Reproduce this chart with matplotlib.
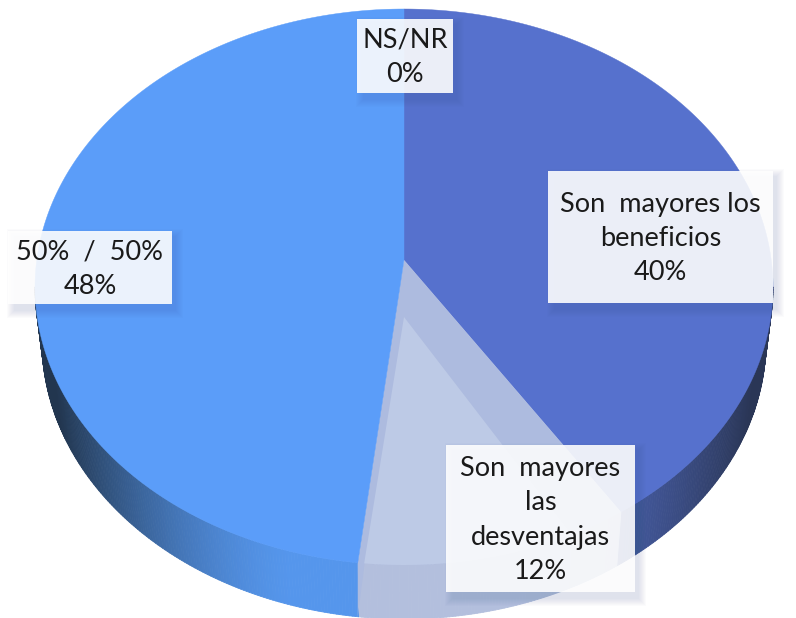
import numpy as np
import matplotlib
matplotlib.use('Agg')
import matplotlib.pyplot as plt
from matplotlib.collections import PolyCollection
from matplotlib.patches import Rectangle

labels = ['Son  mayores los\nbeneficios\n40%', 'Son  mayores\nlas\ndesventajas\n12%', '50%  /  50%\n48%', 'NS/NR\n0%']
values = [40, 12, 48, 0]
top_colors = ['#5671CD', '#BDCAE6', '#5B9DF9', '#8FB0E8']
side_colors = ['#516BC2', '#B3BFDD', '#5596EC', '#8FB0E8']
dark_colors = ['#2A3656', '#8F9CC0', '#22364F', '#8FB0E8']

# label boxes in pixels: left, top, right, bottom
boxes = [(548, 171, 773, 303), (446, 445, 635, 592), (8, 231, 172, 304), (357, 19, 453, 93)]

cx, cy, rx, ry = 404, 287, 369, 278
rx_bottom = 362
apex = (404, 260)
apex_low = (404, 317)
depth = 54

fig = plt.figure(figsize=(7.96, 6.18), dpi=100)
ax = fig.add_axes([0, 0, 1, 1])
ax.set_xlim(0, 796)
ax.set_ylim(618, 0)
ax.axis('off')


def rim(t, dy=0, w=rx):
    return np.column_stack([cx + w * np.sin(t), cy + dy - ry * np.cos(t)])


edges = np.radians(np.cumsum([0] + values) * 3.6)

# side wall, only the lower half of the rim shows
for i in range(len(values)):
    a = max(edges[i], np.pi / 2)
    b = min(edges[i + 1], 1.5 * np.pi)
    if b <= a:
        continue
    ts = np.linspace(a, b, int(np.degrees(b - a)) * 2 + 2)
    polys, cols = [], []
    c0 = np.array(matplotlib.colors.to_rgb(side_colors[i]))
    c1 = np.array(matplotlib.colors.to_rgb(dark_colors[i]))
    for t0, t1 in zip(ts[:-1], ts[1:]):
        p = rim(np.array([t0, t1]))
        q = rim(np.array([t1, t0]), depth, rx_bottom)
        polys.append(np.vstack([p, q]))
        mix = np.clip((abs(np.sin(t0)) - 0.3) / 0.65, 0, 1) ** 1.5
        cols.append(c0 * (1 - mix) + c1 * mix)
    ax.add_collection(PolyCollection(polys, facecolors=cols, edgecolors=cols, linewidths=0.6))

# top faces
for i in range(len(values)):
    if values[i] == 0:
        continue
    ts = np.linspace(edges[i], edges[i + 1], 200)
    if i == 1:
        # this slice is cut open: inner walls first, then the sunken face
        ax.fill(*np.vstack([apex, rim(ts)]).T, color='#ADBBDF', lw=0)
        low = rim(edges[i + 1:i + 2])
        ax.fill([apex[0], low[0, 0], low[0, 0]], [apex[1], low[0, 1], low[0, 1] + depth], color='#ADBBDF', lw=0)
        inner = np.linspace(edges[i] + np.radians(9), edges[i + 1] - np.radians(1), 200)
        ax.fill(*np.vstack([apex_low, rim(inner)]).T, color=top_colors[i], lw=0)
    else:
        ax.fill(*np.vstack([apex, rim(ts)]).T, color=top_colors[i], lw=0.3, ec=top_colors[i])

# label boxes with a soft shadow
for (l, t, r, b), lab in zip(boxes, labels):
    for k in range(8, 0, -1):
        ax.add_patch(Rectangle((l + 7 - k, t + 6 - k), r - l + 2 * k - 4, b - t + 2 * k,
                               fc='#3A5590', ec='none', alpha=0.018))
    ax.add_patch(Rectangle((l, t), r - l, b - t, fc='white', ec='none', alpha=0.89))
    ax.text((l + r) / 2, (t + b) / 2 + 1.5, lab, ha='center', va='center', fontsize=19.5,
            family='Lato', color='#1A1A1A', linespacing=1.47)

fig.savefig('out.png', dpi=100)
